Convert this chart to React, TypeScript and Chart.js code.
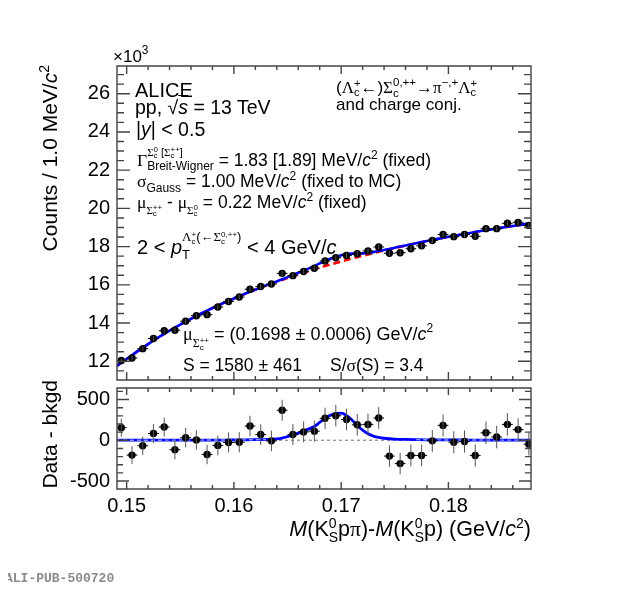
import React, { useEffect, useRef } from "react";
import { Chart, registerables } from "chart.js";
Chart.register(...registerables);

// ---------------- data ----------------
const binCenters = [
  0.1495, 0.1505, 0.1515, 0.1525, 0.1535, 0.1545, 0.1555, 0.1565, 0.1575, 0.1585,
  0.1595, 0.1605, 0.1615, 0.1625, 0.1635, 0.1645, 0.1655, 0.1665, 0.1675, 0.1685,
  0.1695, 0.1705, 0.1715, 0.1725, 0.1735, 0.1745, 0.1755, 0.1765, 0.1775, 0.1785,
  0.1795, 0.1805, 0.1815, 0.1825, 0.1835, 0.1845, 0.1855, 0.1865, 0.1875,
];
const binHalfWidth = 0.0005;
// counts per bin in units of 10^3
const counts = [
  12.04, 12.17, 12.66, 13.19, 13.6, 13.62, 14.1, 14.38, 14.44, 14.84,
  15.13, 15.36, 15.77, 15.91, 16.04, 16.6, 16.48, 16.7, 16.87, 17.25,
  17.42, 17.54, 17.63, 17.77, 17.98, 17.65, 17.68, 17.89, 18.04, 18.32,
  18.63, 18.52, 18.63, 18.54, 18.94, 18.94, 19.22, 19.27, 19.11,
];
// data - background (counts)
const residuals = [
  155, -182, -67, 83, 163, -115, 32, 5, -174, -63,
  -27, -24, 175, 71, -7, 369, 71, 103, 112, 270,
  302, 255, 190, 195, 274, -194, -286, -186, -186, -7,
  183, -24, -15, -186, 92, 40, 195, 131, -48,
];
// statistical uncertainty per bin (counts)
const errors = [
  110, 110, 113, 115, 117, 117, 119, 120, 120, 122,
  123, 124, 126, 126, 127, 129, 128, 129, 130, 131,
  132, 132, 133, 133, 134, 133, 133, 134, 134, 135,
  136, 136, 136, 136, 138, 138, 139, 139, 138,
];
// fit curves
const curveX = [
  0.149, 0.15, 0.151, 0.152, 0.153, 0.154, 0.155, 0.156, 0.157, 0.158,
  0.159, 0.16, 0.161, 0.162, 0.163, 0.164, 0.1645, 0.165, 0.1655, 0.166,
  0.1665, 0.167, 0.1675, 0.168, 0.1685, 0.169, 0.1695, 0.17, 0.1705, 0.171,
  0.1715, 0.172, 0.1725, 0.173, 0.1735, 0.174, 0.1745, 0.175, 0.176, 0.177,
  0.178, 0.179, 0.18, 0.181, 0.182, 0.183, 0.184, 0.185, 0.186, 0.187, 0.1877,
];
// background fit (10^3 counts)
const bkgCurve = [
  11.72, 12.12, 12.52, 12.9, 13.26, 13.6, 13.92, 14.22, 14.51, 14.78,
  15.04, 15.28, 15.52, 15.74, 15.96, 16.16, 16.26, 16.36, 16.45, 16.54,
  16.63, 16.72, 16.81, 16.9, 16.98, 17.06, 17.14, 17.22, 17.3, 17.38,
  17.45, 17.52, 17.59, 17.66, 17.73, 17.8, 17.86, 17.93, 18.05, 18.17,
  18.29, 18.4, 18.51, 18.61, 18.71, 18.81, 18.9, 18.99, 19.08, 19.16, 19.22,
];
// signal fit (counts)
const sigCurve = [
  1, 1, 1, 1, 1, 2, 2, 2, 3, 3,
  3, 4, 5, 7, 11, 18, 28, 45, 65, 88,
  115, 140, 170, 220, 270, 308, 330, 333, 305, 250,
  182, 125, 80, 52, 35, 25, 19, 15, 11, 8,
  6, 5, 4, 4, 3, 3, 2, 2, 2, 2, 2,
];
const xTicks = [0.15, 0.16, 0.17, 0.18];
const topYTicks = [12, 14, 16, 18, 20, 22, 24, 26];
const botYTicks = [-500, 0, 500];

// ---------------- styles ----------------
const SANS = '"Liberation Sans", Arial, Helvetica, sans-serif';
const SERIF = '"Liberation Serif", "Times New Roman", serif';
const XMIN = 0.1491;
const XMAX = 0.1877;
const tickFont = { family: SANS, size: 20 };

const rootAxes = {
  id: "rootAxes",
  afterDraw(chart: any, _a: any, o: any) {
    const { ctx, chartArea: a } = chart;
    const xs = chart.scales.x;
    const ys = chart.scales.y;
    const L = a.left, R = a.right, T = a.top, B = a.bottom;
    ctx.save();
    ctx.strokeStyle = "#444";
    ctx.lineWidth = 1.4;
    ctx.beginPath();
    ctx.rect(L, T, R - L, B - T);
    const seg = (x1: number, y1: number, x2: number, y2: number) => {
      ctx.moveTo(x1, y1);
      ctx.lineTo(x2, y2);
    };
    for (let k = Math.ceil(xs.min / o.xMinor - 1e-6); k * o.xMinor <= xs.max + 1e-9; k++) {
      const v = k * o.xMinor;
      const major = o.xMajors.some((m: number) => Math.abs(m - v) < o.xMinor * 0.1);
      const len = major ? o.xMajorLen : o.xMinorLen;
      const p = xs.getPixelForValue(v);
      seg(p, B, p, B - len);
      seg(p, T, p, T + len);
    }
    for (let k = Math.ceil(ys.min / o.yMinor - 1e-6); k * o.yMinor <= ys.max + 1e-9; k++) {
      const v = k * o.yMinor;
      const major = o.yMajors.some((m: number) => Math.abs(m - v) < o.yMinor * 0.1);
      const len = major ? o.yMajorLen : o.yMinorLen;
      const p = ys.getPixelForValue(v);
      seg(L, p, L + len, p);
      seg(R, p, R - len, p);
    }
    ctx.stroke();
    ctx.restore();
  },
};

const errorBars = {
  id: "errorBars",
  afterDatasetsDraw(chart: any) {
    const { ctx, chartArea: a } = chart;
    const xs = chart.scales.x;
    const ys = chart.scales.y;
    ctx.save();
    ctx.beginPath();
    ctx.rect(a.left, a.top, a.right - a.left, a.bottom - a.top);
    ctx.clip();
    chart.data.datasets.forEach((ds: any) => {
      if (!ds.errY) return;
      ds.data.forEach((pt: any, i: number) => {
        const px = xs.getPixelForValue(pt.x);
        const py = ys.getPixelForValue(pt.y);
        const x1 = xs.getPixelForValue(pt.x - ds.halfX);
        const x2 = xs.getPixelForValue(pt.x + ds.halfX);
        const y1 = ys.getPixelForValue(pt.y - ds.errY[i]);
        const y2 = ys.getPixelForValue(pt.y + ds.errY[i]);
        ctx.strokeStyle = "#000";
        ctx.lineWidth = 1;
        ctx.beginPath();
        ctx.moveTo(x1, py);
        ctx.lineTo(x2, py);
        ctx.stroke();
        ctx.strokeStyle = "#555";
        ctx.beginPath();
        ctx.moveTo(px, y1);
        ctx.lineTo(px, y2);
        ctx.stroke();
      });
    });
    ctx.restore();
  },
};

function xScale(showLabels: boolean, height: number) {
  return {
    type: "linear",
    min: XMIN,
    max: XMAX,
    grid: { display: false, drawTicks: false },
    border: { display: false },
    ticks: {
      display: showLabels,
      font: tickFont,
      color: "#000",
      padding: 5,
      autoSkip: false,
      maxRotation: 0,
      callback: (v: any) => Number(v).toFixed(2),
    },
    afterBuildTicks: (s: any) => {
      s.ticks = xTicks.map((value) => ({ value }));
    },
    afterFit: (s: any) => {
      s.height = height;
      s.paddingLeft = 0;
      s.paddingRight = 0;
      s.paddingTop = 0;
      s.paddingBottom = 0;
    },
  };
}

function yScale(min: number, max: number, ticks: number[]) {
  return {
    type: "linear",
    min,
    max,
    grid: { display: false, drawTicks: false },
    border: { display: false },
    ticks: {
      font: tickFont,
      color: "#000",
      padding: 7,
      autoSkip: false,
      callback: (v: any) => String(v),
    },
    afterBuildTicks: (s: any) => {
      s.ticks = ticks.map((value) => ({ value }));
    },
    afterFit: (s: any) => {
      s.width = 109;
      s.paddingTop = 0;
      s.paddingBottom = 0;
      s.paddingLeft = 0;
      s.paddingRight = 0;
    },
  };
}

function topConfig(): any {
  return {
    type: "scatter",
    data: {
      datasets: [
        {
          label: "background",
          data: curveX.map((x, i) => ({ x, y: bkgCurve[i] })),
          showLine: true,
          borderColor: "#ff0000",
          borderWidth: 2.6,
          borderDash: [7, 4],
          pointRadius: 0,
          cubicInterpolationMode: "monotone",
          order: 3,
        },
        {
          label: "total fit",
          data: curveX.map((x, i) => ({ x, y: bkgCurve[i] + sigCurve[i] / 1000 })),
          showLine: true,
          borderColor: "#0000ff",
          borderWidth: 2.6,
          pointRadius: 0,
          cubicInterpolationMode: "monotone",
          order: 2,
        },
        {
          label: "data",
          data: binCenters.map((x, i) => ({ x, y: counts[i] })),
          errY: errors.map((e) => e / 1000),
          halfX: binHalfWidth,
          pointRadius: 3.7,
          pointBackgroundColor: "#000",
          pointBorderWidth: 0,
          order: 1,
        },
      ],
    },
    options: {
      animation: false,
      responsive: false,
      events: [],
      layout: { padding: { left: 0, right: 81, top: 58, bottom: 0 } },
      plugins: {
        legend: { display: false },
        tooltip: { enabled: false },
        rootAxes: {
          xMinor: 0.002, xMajors: xTicks, xMajorLen: 8, xMinorLen: 4,
          yMinor: 0.5, yMajors: topYTicks, yMajorLen: 13, yMinorLen: 7,
        },
      },
      scales: { x: xScale(false, 0), y: yScale(11.02, 27.45, topYTicks) },
    },
    plugins: [rootAxes, errorBars],
  };
}

function botConfig(): any {
  const left = curveX.map((x, i) => ({ x, y: sigCurve[i] })).filter((p) => p.x <= 0.1635);
  const right = curveX.map((x, i) => ({ x, y: sigCurve[i] })).filter((p) => p.x >= 0.1765);
  return {
    type: "scatter",
    data: {
      datasets: [
        {
          label: "zero",
          data: [{ x: XMIN, y: 0 }, { x: XMAX, y: 0 }],
          showLine: true,
          borderColor: "#9a9a9a",
          borderWidth: 1.4,
          borderDash: [3, 3],
          pointRadius: 0,
          order: 6,
        },
        {
          label: "signal",
          data: curveX.map((x, i) => ({ x, y: sigCurve[i] })),
          showLine: true,
          borderColor: "#0000ff",
          borderWidth: 2.8,
          pointRadius: 0,
          cubicInterpolationMode: "monotone",
          order: 5,
        },
        {
          label: "bkg left",
          data: left,
          showLine: true,
          borderColor: "#7d9bff",
          borderWidth: 1.4,
          borderDash: [4, 3],
          pointRadius: 0,
          order: 4,
        },
        {
          label: "bkg right",
          data: right,
          showLine: true,
          borderColor: "#7d9bff",
          borderWidth: 1.4,
          borderDash: [4, 3],
          pointRadius: 0,
          order: 3,
        },
        {
          label: "residuals",
          data: binCenters.map((x, i) => ({ x, y: residuals[i] })),
          errY: errors,
          halfX: binHalfWidth,
          pointRadius: 3.7,
          pointBackgroundColor: "#000",
          pointBorderWidth: 0,
          order: 1,
        },
      ],
    },
    options: {
      animation: false,
      responsive: false,
      events: [],
      layout: { padding: { left: 0, right: 81, top: 0, bottom: 0 } },
      plugins: {
        legend: { display: false },
        tooltip: { enabled: false },
        rootAxes: {
          xMinor: 0.002, xMajors: xTicks, xMajorLen: 7, xMinorLen: 4,
          yMinor: 100, yMajors: botYTicks, yMajorLen: 12, yMinorLen: 6,
        },
      },
      scales: { x: xScale(true, 95), y: yScale(-598, 642, botYTicks) },
    },
    plugins: [rootAxes, errorBars],
  };
}

// ---------------- text helpers ----------------
const OFF = 8;
function Txt({ x, base, fs, family = SANS, children, color = "#000", weight, right }: any) {
  const style: any = {
    position: "absolute",
    top: base - 0.8465 * fs - OFF,
    fontSize: fs,
    lineHeight: fs + "px",
    fontFamily: family,
    whiteSpace: "nowrap",
    color,
    fontWeight: weight,
  };
  if (right !== undefined) style.right = 604 - (right - OFF);
  else style.left = x - OFF;
  return <div style={style}>{children}</div>;
}
const G = ({ children }: any) => <span style={{ fontFamily: SERIF }}>{children}</span>;
const Sup = ({ children, fs, up }: any) => (
  <span style={{ fontSize: fs, position: "relative", top: -up }}>{children}</span>
);
const Sub = ({ children, fs, down }: any) => (
  <span style={{ fontSize: fs, position: "relative", top: down }}>{children}</span>
);
const SS = ({ sup, sub, fs, up, down }: any) => (
  <span style={{ display: "inline-grid", fontSize: fs, lineHeight: fs + "px" }}>
    <span style={{ gridArea: "1 / 1", position: "relative", top: -up, whiteSpace: "nowrap" }}>{sup}</span>
    <span style={{ gridArea: "1 / 1", position: "relative", top: down, whiteSpace: "nowrap" }}>{sub}</span>
  </span>
);
const SigC = ({ q, fs = 8 }: any) => (
  <>
    <G>Σ</G>
    <SS fs={fs} up={fs * 0.45} down={fs * 0.35} sup={q} sub="c" />
  </>
);
const Rot = ({ x, endY, fs, children }: any) => (
  <div
    style={{
      position: "absolute",
      left: x - OFF,
      top: endY + 300 - OFF,
      width: 300,
      textAlign: "right",
      transformOrigin: "0 0",
      transform: "rotate(-90deg)",
      fontSize: fs,
      lineHeight: fs + "px",
      fontFamily: SANS,
      whiteSpace: "nowrap",
      color: "#000",
    }}
  >
    {children}
  </div>
);

export default function App() {
  const topRef = useRef<HTMLCanvasElement>(null);
  const botRef = useRef<HTMLCanvasElement>(null);
  useEffect(() => {
    const c1 = new Chart(topRef.current as HTMLCanvasElement, topConfig());
    const c2 = new Chart(botRef.current as HTMLCanvasElement, botConfig());
    return () => {
      c1.destroy();
      c2.destroy();
    };
  }, []);

  return (
    <div style={{ position: "relative", width: 604, height: 576 }}>
      <canvas ref={topRef} width={604} height={376} style={{ position: "absolute", left: 0, top: 0 }} />
      <canvas ref={botRef} width={604} height={200} style={{ position: "absolute", left: 0, top: 376 }} />

      <Txt x={113} base={62} fs={17}>
        ×10<Sup fs={12} up={8}>3</Sup>
      </Txt>
      <Txt x={135} base={97} fs={20}>ALICE</Txt>
      <Txt x={135} base={115} fs={19.5}>
        pp, √<span style={{ textDecoration: "overline" }}><i>s</i></span> = 13 TeV
      </Txt>
      <Txt x={136} base={137} fs={19.5}>
        |<i>y</i>| &lt; 0.5
      </Txt>
      <Txt x={137} base={166.5} fs={17.5}>
        <G>Γ</G>
        <SS
          fs={12}
          up={10}
          down={4.5}
          sup={
            <span style={{ fontSize: 11 }}>
              <SigC q="0" /> [<SigC q="++" />]
            </span>
          }
          sub="Breit-Wigner"
        />{" "}
        = 1.83 [1.89] MeV/<i>c</i>
        <Sup fs={12} up={7}>2</Sup> (fixed)
      </Txt>
      <Txt x={137} base={188} fs={17.5}>
        <G>σ</G>
        <Sub fs={12} down={5}>Gauss</Sub> = 1.00 MeV/<i>c</i>
        <Sup fs={12} up={7}>2</Sup> (fixed to MC)
      </Txt>
      <Txt x={137} base={208.5} fs={17.5}>
        <G>μ</G>
        <Sub fs={11} down={6}>
          <SigC q="++" />
        </Sub>{" "}
        - <G>μ</G>
        <Sub fs={11} down={6}>
          <SigC q="0" />
        </Sub>{" "}
        = 0.22 MeV/<i>c</i>
        <Sup fs={12} up={7}>2</Sup> (fixed)
      </Txt>
      <Txt x={137} base={254} fs={20}>
        2 &lt; <i>p</i>
        <SS
          fs={13}
          up={13}
          down={5}
          sup={
            <>
              <G>Λ</G>
              <SS fs={8} up={4} down={3} sup="+" sub="c" />(<G>←Σ</G>
              <SS fs={8} up={4} down={3} sup="0,++" sub="c" />)
            </>
          }
          sub="T"
        />{" "}
        &lt; 4 GeV/<i>c</i>
      </Txt>
      <Txt x={336} base={93} fs={17}>
        (<G>Λ</G>
        <SS fs={11} up={6} down={3.5} sup="+" sub="c" />
        <G>←</G>)<G>Σ</G>
        <SS fs={11.5} up={7} down={4} sup="0,++" sub="c" />
        <G>→π</G>
        <Sup fs={11.5} up={7}>−,+</Sup>
        <G>Λ</G>
        <SS fs={11} up={6} down={3.5} sup="+" sub="c" />
      </Txt>
      <Txt x={336} base={110} fs={17}>and charge conj.</Txt>
      <Txt x={183} base={340} fs={18}>
        <G>μ</G>
        <Sub fs={12} down={7}>
          <SigC q="++" />
        </Sub>{" "}
        = (0.1698 ± 0.0006) GeV/<i>c</i>
        <Sup fs={12} up={8}>2</Sup>
      </Txt>
      <Txt x={183} base={372} fs={17.5}>S = 1580 ± 461</Txt>
      <Txt x={330} base={372} fs={17.5}>
        S/<G>σ</G>(S) = 3.4
      </Txt>

      <Rot x={39} endY={65} fs={21}>
        Counts / 1.0 MeV/<i>c</i>
        <Sup fs={14} up={8}>2</Sup>
      </Rot>
      <Rot x={39} endY={380} fs={21}>Data - bkgd</Rot>

      <Txt right={531} base={537} fs={21.5}>
        <i>M</i>(K<SS fs={14} up={8} down={6} sup="0" sub="S" />p<G>π</G>)-<i>M</i>(K
        <SS fs={14} up={8} down={6} sup="0" sub="S" />p) (GeV/<i>c</i>
        <Sup fs={14} up={8}>2</Sup>)
      </Txt>

      <Txt x={5} base={583} fs={13} family={'"Liberation Mono", "DejaVu Sans Mono", monospace'} color="#8a8a8a" weight="bold">
        ALI-PUB-500720
      </Txt>
    </div>
  );
}
